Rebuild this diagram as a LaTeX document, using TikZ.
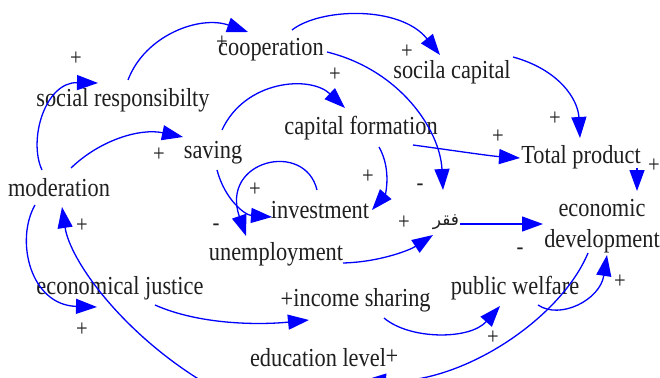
\documentclass[tikz,border=0pt]{standalone}
\usepackage{fontspec}
\setmainfont[FakeStretch=0.86]{Liberation Serif}
\newfontfamily\arabicfont[Script=Arabic]{DejaVu Sans}
\TeXXeTstate=1
\usetikzlibrary{arrows.meta,calc}
\tikzset{
  lbl/.style={inner sep=0pt, font=\fontsize{26}{31}\selectfont, text=black!88, align=center},
  sgn/.style={inner sep=0pt, font=\fontsize{24}{24}\selectfont, text=black!88},
  conn/.style={draw=blue, line width=1.3pt, -{Triangle[length=21pt,width=15pt]}}
}
\begin{document}
\begin{tikzpicture}[x=1pt,y=-1pt]
\useasboundingbox (0,0) rectangle (660,377);
\clip (0,0) rectangle (660,377);
\fill[white] (0,0) rectangle (660,377);
% nodes
\node[lbl] (moder) at (59,188) {moderation};
\node[lbl] (socresp) at (123,100) {social responsibilty};
\node[lbl] (coop) at (271,50) {cooperation};
\node[lbl] (socap) at (452,72) {socila capital};
\node[lbl] (capform) at (361,128) {capital formation};
\node[lbl] (saving) at (213,153) {saving};
\node[lbl] (total) at (581,157) {Total product};
\node[lbl] (invest) at (320,210) {investment};
\node[lbl] (unemp) at (276,254) {unemployment};
\node[lbl] (faqr) at (446,222) {\arabicfont\fontsize{17}{20}\selectfont\beginR فقر\endR};
\node[lbl] (econdev) at (602,226) {economic\\development};
\node[lbl] (econjust) at (120,288) {economical justice};
\node[lbl] (income) at (362,300) {income sharing};
\node[lbl] (welfare) at (515,288) {public welfare};
\node[lbl] (edu) at (318,358) {education level};
% signs
\node[sgn] (s1) at (76,59) {+};
\node[sgn] (s2) at (222,43) {+};
\node[sgn] (s3) at (407,52) {+};
\node[sgn] (s4) at (335,75) {+};
\node[sgn] (s5) at (159,155) {+};
\node[sgn] (s6) at (555,119) {+};
\node[sgn] (s7) at (498,137) {+};
\node[sgn] (s8) at (654,166) {+};
\node[sgn] (s9) at (255,190) {+};
\node[sgn] (s10) at (368,177) {+};
\node[sgn] (s11) at (216,227) {-};
\node[sgn] (s12) at (420,187) {-};
\node[sgn] (s13) at (404,223) {+};
\node[sgn] (s14) at (520,251) {-};
\node[sgn] (s15) at (82,226) {+};
\node[sgn] (s16) at (82,330) {+};
\node[lbl] (s17) at (287,300) {+};
\node[sgn] (s18) at (620,282) {+};
\node[sgn] (s19) at (493,338) {+};
\node[lbl] (s20) at (392,357) {+};
% connectors
\draw[conn] ([shift={(-17,-18)}]moder.center) .. controls (28,140) and (45,82) .. ([shift={(-25,-17)}]socresp.center);
\draw[conn] ([shift={(5,-20)}]socresp.center) .. controls (145,35) and (200,15) .. ([shift={(-23,-18)}]coop.center);
\draw[conn] ([shift={(12,-20)}]moder.center) .. controls (100,140) and (140,128) .. ([shift={(-30,-16)}]saving.center);
\draw[conn] ([shift={(21,-20)}]coop.center) .. controls (320,8) and (400,5) .. ([shift={(-12,-17)}]socap.center);
\draw[conn] ([shift={(56,2)}]coop.center) .. controls (400,70) and (440,130) .. ([shift={(-3,-32)}]faqr.center);
\draw[conn] ([shift={(61,-15)}]socap.center) .. controls (560,70) and (578,100) .. ([shift={(-1,-19)}]total.center);
\draw[conn] ([shift={(9,-23)}]saving.center) .. controls (245,80) and (310,75) .. ([shift={(-16,-20)}]capform.center);
\draw[conn] ([shift={(52,17)}]capform.center) .. controls (450,150) and (490,156) .. ([shift={(-61,1)}]total.center);
\draw[conn] ([shift={(18,19)}]capform.center) .. controls (392,170) and (385,195) .. ([shift={(52,0)}]invest.center);
\draw[conn] ([shift={(-3,-20)}]invest.center) .. controls (305,140) and (220,160) .. ([shift={(-30,-18)}]unemp.center);
\draw[conn] ([shift={(4,17)}]saving.center) .. controls (225,200) and (245,215) .. ([shift={(-48,7)}]invest.center);
\draw[conn] ([shift={(67,9)}]unemp.center) .. controls (380,262) and (410,250) .. ([shift={(-13,13)}]faqr.center);
\draw[conn] ([shift={(14,2)}]faqr.center) -- ([shift={(-59,-2)}]econdev.center);
\draw[conn] ([shift={(56,11)}]total.center) -- ([shift={(35,-35)}]econdev.center);
\draw[conn] ([shift={(-24,17)}]moder.center) .. controls (15,240) and (30,305) .. ([shift={(-23,19)}]econjust.center);
\draw[conn] ([shift={(-118,22)}]edu.center) .. controls (120,330) and (70,260) .. ([shift={(3,19)}]moder.center);
\draw[conn] ([shift={(35,17)}]econjust.center) .. controls (200,325) and (260,325) .. ([shift={(-53,20)}]income.center);
\draw[conn] ([shift={(22,18)}]income.center) .. controls (410,340) and (470,340) .. ([shift={(-15,18)}]welfare.center);
\draw[conn] ([shift={(23,17)}]welfare.center) .. controls (560,320) and (600,300) .. ([shift={(5,29)}]econdev.center);
\draw[conn] ([shift={(-14,27)}]econdev.center) .. controls (560,320) and (460,385) .. ([shift={(47,22)}]edu.center);
\end{tikzpicture}
\end{document}
